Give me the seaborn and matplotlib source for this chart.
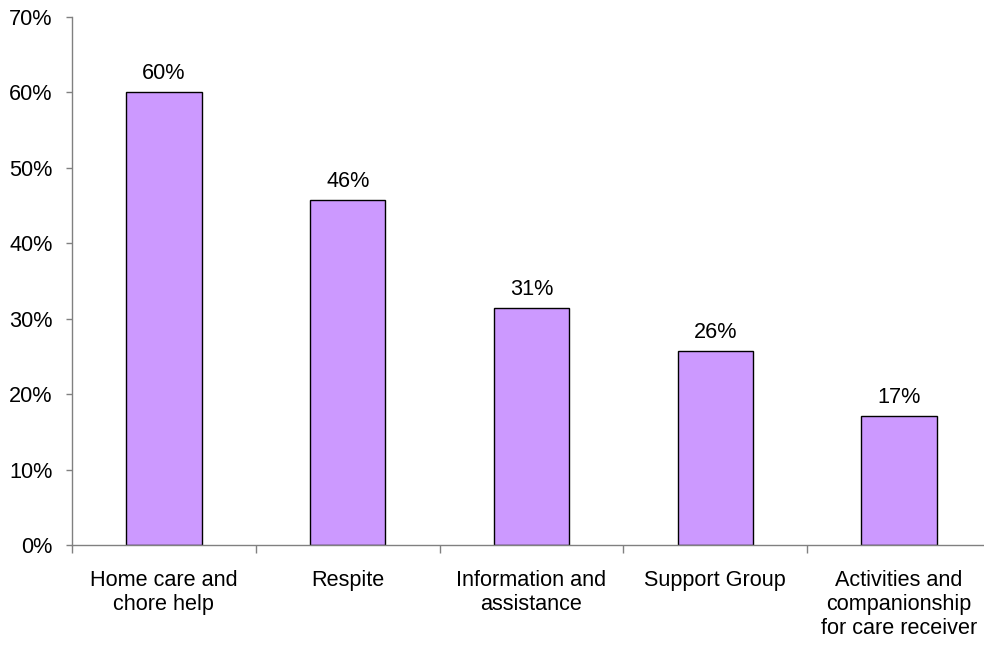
import matplotlib
matplotlib.use("Agg")
import matplotlib.pyplot as plt
import seaborn as sns
import pandas as pd
from matplotlib.ticker import FixedLocator, PercentFormatter

categories = ["Home care and\nchore help", "Respite", "Information and\nassistance",
              "Support Group", "Activities and\ncompanionship\nfor care receiver"]
values = [60.0, 45.7, 31.4, 25.7, 17.1]
y_ticks = [0, 10, 20, 30, 40, 50, 60, 70]

sns.set_style("white")
plt.rcParams['font.family'] = ['Liberation Sans', 'DejaVu Sans']
plt.rcParams['text.color'] = 'black'
plt.rcParams['xtick.color'] = 'black'
plt.rcParams['ytick.color'] = 'black'

FS = 15.6

df = pd.DataFrame({"cat": categories, "val": values})

fig = plt.figure(figsize=(9.84, 6.45), dpi=100)
ax = fig.add_axes([72/984, 100/645, (991-72)/984, (545-17)/645])

sns.barplot(data=df, x="cat", y="val", color="#CC99FF", saturation=1,
            width=0.41, edgecolor="black", linewidth=1.0, ax=ax)

ax.set_xlim(-0.5, 4.5)
ax.set_ylim(0, 70)
ax.set_yticks(y_ticks)
ax.yaxis.set_major_formatter(PercentFormatter(decimals=0))
ax.set_xlabel("")
ax.set_ylabel("")

for s in ["top", "right"]:
    ax.spines[s].set_visible(False)
for s in ["left", "bottom"]:
    ax.spines[s].set_color("#808080")
    ax.spines[s].set_linewidth(1.0)

ax.tick_params(axis="y", which="major", direction="out", length=4, width=1,
               color="#808080", labelcolor="black", labelsize=FS, pad=10, left=True)
ax.tick_params(axis="x", which="major", length=0, labelsize=FS, labelcolor="black", pad=18)
for lbl in ax.get_xticklabels():
    lbl.set_linespacing(1.18)
ax.xaxis.set_minor_locator(FixedLocator([-0.5, 0.5, 1.5, 2.5, 3.5, 4.5]))
ax.tick_params(axis="x", which="minor", direction="out", length=6, width=1,
               color="#808080", bottom=True)

ax.bar_label(ax.containers[0], labels=[f"{v:.0f}%" for v in values],
             padding=6, fontsize=FS, color="black")

fig.savefig("out.png", dpi=100)
